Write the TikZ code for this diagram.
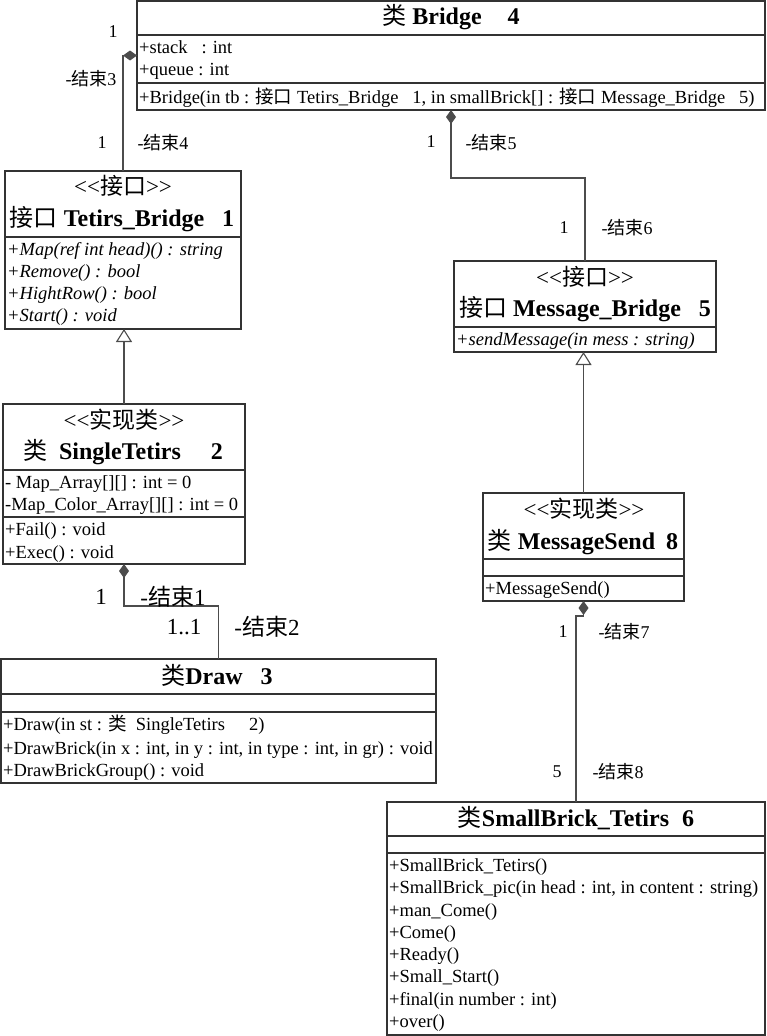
\documentclass[tikz,border=0pt]{standalone}
\usepackage{fontspec}
\setmainfont{Liberation Serif}
\newfontfamily\cjk{Noto Sans CJK SC}
\usetikzlibrary{arrows.meta}
\newcommand\zh[1]{{\cjk #1}}
\newcommand\stereoL{\mbox{<}\mbox{<}}
\newcommand\stereoR{\mbox{>}\mbox{>}}
\begin{document}
\begin{tikzpicture}[x=1pt,y=-1pt,
  box/.style={draw=black!80,line width=1.2pt,inner sep=0pt,outer sep=0pt,anchor=north west},
  divl/.style={draw=black!80,line width=1.2pt},
  txt/.style={anchor=west,inner sep=0pt,yshift=-4pt,text height=0.7em,text depth=0.2em,font=\fontsize{18.5}{20}\selectfont},
  itxt/.style={txt,font=\fontsize{18.5}{20}\selectfont\itshape},
  ttl/.style={anchor=center,inner sep=0pt,yshift=-5pt,text height=0.7em,text depth=0.2em,font=\fontsize{24}{26}\selectfont},
  stereo/.style={anchor=center,inner sep=0pt,yshift=-5pt,text height=0.7em,text depth=0.2em,font=\fontsize{23}{25}\selectfont},
  lbl/.style={anchor=center,inner sep=0pt,font=\fontsize{18}{20}\selectfont},
  biglbl/.style={anchor=center,inner sep=0pt,font=\fontsize{23}{25}\selectfont},
  conn/.style={draw=black!70,line width=1.1pt},
  comp/.style={conn,-{Diamond[length=14pt,width=10pt]}},
  compstart/.style={conn,{Diamond[length=14pt,width=10pt]}-},
  gen/.style={conn,-{Triangle[open,length=13pt,width=16pt,fill=white]}}
]
\useasboundingbox (0,0) rectangle (766,1036);

% ---------- Bridge ----------
\node[box,minimum width=628pt,minimum height=109pt] (bridge) at (137,1) {};
\draw[divl] (bridge.west |- 0,35) -- (bridge.east |- 0,35);
\draw[divl] (bridge.west |- 0,83) -- (bridge.east |- 0,83);
\node[ttl] (bridgeT) at (451,17) {\zh{类}\hspace{6pt}\textbf{Bridge}\hspace{26pt}\textbf{4}};
\node[txt] (bridgeA1) at (139,47) {+stack\ \ \ : int};
\node[txt] (bridgeA2) at (139,69) {+queue : int};
\node[txt] (bridgeM1) at (139,97) {+Bridge(in tb : \zh{接口} Tetirs\_Bridge\ \ \ 1, in smallBrick[] : \zh{接口} Message\_Bridge\ \ \ 5)};

% ---------- Tetirs_Bridge ----------
\node[box,minimum width=236pt,minimum height=158pt] (tetirs) at (5,171) {};
\draw[divl] (tetirs.west |- 0,237) -- (tetirs.east |- 0,237);
\node[stereo] (tetirsS) at (123,187) {\stereoL\zh{接口}\stereoR};
\node[ttl] (tetirsT) at (122,219) {\zh{接口} \textbf{Tetirs\_Bridge}\hspace{18pt}\textbf{1}};
\node[itxt] (tetirsM1) at (7,249) {+Map(ref int head)() : string};
\node[itxt] (tetirsM2) at (7,271) {+Remove() : bool};
\node[itxt] (tetirsM3) at (7,293) {+HightRow() : bool};
\node[itxt] (tetirsM4) at (7,315) {+Start() : void};

% ---------- SingleTetirs ----------
\node[box,minimum width=242pt,minimum height=160pt] (single) at (3,404) {};
\draw[divl] (single.west |- 0,470) -- (single.east |- 0,470);
\draw[divl] (single.west |- 0,517) -- (single.east |- 0,517);
\node[stereo] (singleS) at (124,421) {\stereoL\zh{实现类}\stereoR};
\node[ttl] (singleT) at (123,452) {\zh{类}\hspace{12pt}\textbf{SingleTetirs}\hspace{30pt}\textbf{2}};
\node[txt] (singleA1) at (5,482) {- Map\_Array[][] : int = 0};
\node[txt] (singleA2) at (5,504) {-Map\_Color\_Array[][] : int = 0};
\node[txt] (singleM1) at (5,529) {+Fail() : void};
\node[txt] (singleM2) at (5,552) {+Exec() : void};

% ---------- Draw ----------
\node[box,minimum width=435pt,minimum height=124pt] (draw) at (1,659) {};
\draw[divl] (draw.west |- 0,694) -- (draw.east |- 0,694);
\draw[divl] (draw.west |- 0,712) -- (draw.east |- 0,712);
\node[ttl] (drawT) at (217,677) {\zh{类}\textbf{Draw}\hspace{18pt}\textbf{3}};
\node[txt] (drawM1) at (3,724) {+Draw(in st : \zh{类}\ \ SingleTetirs\hspace{24pt}2)};
\node[txt] (drawM2) at (3,748) {+DrawBrick(in x : int, in y : int, in type : int, in gr) : void};
\node[txt] (drawM3) at (3,770) {+DrawBrickGroup() : void};

% ---------- Message_Bridge ----------
\node[box,minimum width=262pt,minimum height=91pt] (mb) at (454,261) {};
\draw[divl] (mb.west |- 0,327) -- (mb.east |- 0,327);
\node[stereo] (mbS) at (585,278) {\stereoL\zh{接口}\stereoR};
\node[ttl] (mbT) at (585,309) {\zh{接口} \textbf{Message\_Bridge}\hspace{18pt}\textbf{5}};
\node[itxt] (mbM1) at (456,339) {+sendMessage(in mess : string)};

% ---------- MessageSend ----------
\node[box,minimum width=201pt,minimum height=108pt] (ms) at (483,493) {};
\draw[divl] (ms.west |- 0,559) -- (ms.east |- 0,559);
\draw[divl] (ms.west |- 0,576) -- (ms.east |- 0,576);
\node[stereo] (msS) at (584,510) {\stereoL\zh{实现类}\stereoR};
\node[ttl] (msT) at (583,542) {\zh{类} \textbf{MessageSend}\hspace{11pt}\textbf{8}};
\node[txt] (msM1) at (485,588) {+MessageSend()};

% ---------- SmallBrick_Tetirs ----------
\node[box,minimum width=378pt,minimum height=233pt] (sb) at (387,802) {};
\draw[divl] (sb.west |- 0,836) -- (sb.east |- 0,836);
\draw[divl] (sb.west |- 0,853) -- (sb.east |- 0,853);
\node[ttl] (sbT) at (576,819) {\zh{类}\textbf{SmallBrick\_Tetirs}\hspace{13pt}\textbf{6}};
\node[txt] (sbM1) at (389,865) {+SmallBrick\_Tetirs()};
\node[txt] (sbM2) at (389,887) {+SmallBrick\_pic(in head : int, in content : string)};
\node[txt] (sbM3) at (389,910) {+man\_Come()};
\node[txt] (sbM4) at (389,932) {+Come()};
\node[txt] (sbM5) at (389,954) {+Ready()};
\node[txt] (sbM6) at (389,976) {+Small\_Start()};
\node[txt] (sbM7) at (389,999) {+final(in number : int)};
\node[txt] (sbM8) at (389,1021) {+over()};

% ---------- connectors ----------
\draw[comp] (tetirs.north) |- (bridge.west);
\draw[compstart] (bridge.south) -- ++(0,68) -| (mb.north);
\draw[gen] (single.north) -- (single.north |- tetirs.south);
\draw[gen] (ms.north) -- (ms.north |- mb.south);
\draw[compstart] (single.south) -- ++(0,42) -| (draw.north);
\draw[compstart] (ms.south) -- ++(0,15) -| (sb.north);

% ---------- labels ----------
\node[lbl] (l1) at (113,32) {1};
\node[lbl] (l2) at (91,79) {-\zh{结束}3};
\node[lbl] (l3) at (102,143) {1};
\node[lbl] (l4) at (163,143) {-\zh{结束}4};
\node[lbl] (l5) at (431,142) {1};
\node[lbl] (l6) at (491,143) {-\zh{结束}5};
\node[lbl] (l7) at (564,228) {1};
\node[lbl] (l8) at (627,228) {-\zh{结束}6};
\node[biglbl] (l9) at (101,597) {1};
\node[biglbl] (l10) at (173,597) {-\zh{结束}1};
\node[biglbl] (l11) at (184,627) {1..1};
\node[biglbl] (l12) at (267,627) {-\zh{结束}2};
\node[lbl] (l13) at (563,632) {1};
\node[lbl] (l14) at (624,632) {-\zh{结束}7};
\node[lbl] (l15) at (557,772) {5};
\node[lbl] (l16) at (618,772) {-\zh{结束}8};
\end{tikzpicture}
\end{document}
